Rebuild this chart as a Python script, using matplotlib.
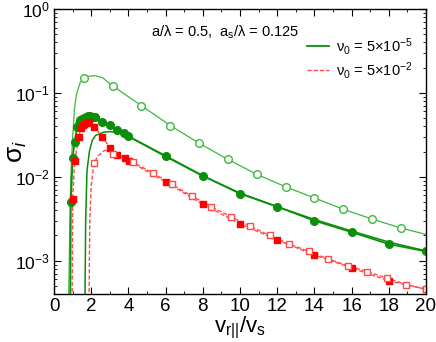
import matplotlib
matplotlib.use("Agg")
import matplotlib.pyplot as plt
from matplotlib.ticker import LogLocator, MultipleLocator, NullFormatter

plt.rcParams['font.family'] = ['Liberation Sans', 'DejaVu Sans']
plt.rcParams['mathtext.fontset'] = 'custom'
plt.rcParams['mathtext.rm'] = 'Liberation Sans'
plt.rcParams['mathtext.it'] = 'Liberation Sans:italic'
plt.rcParams['mathtext.bf'] = 'Liberation Sans:bold'

# curves
g1_x = [0.78, 0.85, 0.9, 1.0, 1.1, 1.2, 1.4, 1.6, 1.9, 2.2, 2.6, 3.15, 4.7, 6.25, 7.8,
        9.35, 10.9, 12.45, 14.0, 15.55, 17.1, 18.65, 20.0]
g1_y = [3e-4, 0.003, 0.01, 0.03, 0.065, 0.095, 0.132, 0.150, 0.158, 0.16, 0.152, 0.121,
        0.0703, 0.0408, 0.0251, 0.0161, 0.0107, 0.0076, 0.0056, 0.0041, 0.00314, 0.00245, 0.00206]

g2_x = [0.87, 0.9, 1.0, 1.1, 1.25, 1.4, 1.58, 1.85, 2.1, 2.6, 3.0, 3.4, 3.8, 4.0, 6.0,
        8.0, 10.0, 12.0, 14.0, 16.0, 18.0, 20.0]
g2_y = [3e-4, 0.005, 0.0166, 0.0263, 0.0394, 0.047, 0.0505, 0.052, 0.0505, 0.0456, 0.040,
        0.036, 0.033, 0.0304, 0.0177, 0.0103, 0.0063, 0.0044, 0.0030, 0.00219, 0.00158, 0.00129]

g3_x = [1.66, 1.7, 1.77, 1.9, 2.05, 2.22, 2.67, 3.0, 3.5, 4.0, 6.0, 8.0, 10.0, 12.0,
        14.0, 16.0, 18.0, 20.0]
g3_y = [3e-4, 0.003, 0.0118, 0.02, 0.027, 0.031, 0.034, 0.0345, 0.0332, 0.0302, 0.0174,
        0.0102, 0.0064, 0.0044, 0.0031, 0.00226, 0.00167, 0.00131]

r1_x = [0.97, 1.0, 1.11, 1.33, 1.43, 1.63, 1.88, 2.17, 2.6, 3.0, 3.4, 3.8, 4.0, 6.0, 8.0,
        10.0, 12.0, 14.0, 16.0, 18.0, 20.0]
r1_y = [3e-4, 0.0055, 0.0155, 0.0296, 0.038, 0.0427, 0.0447, 0.039, 0.030, 0.022, 0.0183,
        0.0166, 0.0155, 0.0087, 0.0047, 0.00275, 0.00177, 0.00117, 0.00082, 0.000576, 0.000457]

r2_x = [1.88, 1.92, 2.0, 2.15, 2.4, 2.7, 3.0, 3.19, 3.6, 4.25, 5.3, 6.35, 7.4, 8.45, 9.5,
        10.55, 11.6, 12.65, 13.7, 14.75, 15.8, 16.85, 17.9, 18.95, 20.0]
r2_y = [3e-4, 0.003, 0.008, 0.0147, 0.018, 0.0205, 0.021, 0.0195, 0.0175, 0.0148, 0.0112,
        0.0081, 0.0059, 0.0044, 0.00335, 0.00257, 0.0020, 0.00158, 0.00129, 0.00105,
        0.00087, 0.00074, 0.00062, 0.00052, 0.000457]

# markers
oc_x = [1.6, 3.15, 4.7, 6.25, 7.8, 9.35, 10.9, 12.45, 14.0, 15.55, 17.1, 18.65]
oc_y = [0.150, 0.121, 0.0703, 0.0408, 0.0251, 0.0161, 0.0107, 0.0076, 0.0056, 0.0041,
        0.00314, 0.00245]

fc_x = [0.9, 1.0, 1.1, 1.25, 1.33, 1.4, 1.5, 1.6, 1.72, 1.85, 1.95, 2.1, 2.2, 2.6, 3.0,
        3.4, 3.75, 3.95, 6.0, 8.0, 10.0, 12.0, 14.0, 16.0, 18.0, 20.0]
fc_y = [0.0050, 0.0166, 0.0263, 0.0394, 0.043, 0.047, 0.049, 0.0505, 0.052, 0.0524, 0.0526,
        0.0512, 0.051, 0.0455, 0.041, 0.0362, 0.0330, 0.031, 0.0177, 0.0103, 0.0063, 0.0044,
        0.0030, 0.00219, 0.00158, 0.00129]

fs_x = [1.0, 1.11, 1.33, 1.43, 1.55, 1.63, 1.75, 1.88, 2.17, 2.6, 3.0, 3.4, 3.82, 4.03,
        6.0, 8.0, 10.0, 12.0, 14.0, 16.0, 18.0, 20.0]
fs_y = [0.0055, 0.0155, 0.0296, 0.038, 0.041, 0.0427, 0.044, 0.0447, 0.039, 0.030, 0.022,
        0.0183, 0.0166, 0.0155, 0.0087, 0.0047, 0.00275, 0.00177, 0.00117, 0.00082,
        0.000576, 0.000457]

os_x = [2.15, 3.19, 4.25, 5.3, 6.35, 7.4, 8.45, 9.5, 10.55, 11.6, 12.65, 13.7, 14.75,
        15.8, 16.85, 17.9, 18.95, 20.0]
os_y = [0.0147, 0.0187, 0.0148, 0.0112, 0.0081, 0.0059, 0.0044, 0.00335, 0.00257, 0.0020,
        0.00158, 0.00129, 0.00105, 0.00087, 0.00074, 0.00062, 0.00052, 0.000457]

green = '#0a8f0a'
lgreen = '#3db83d'
red = '#ff0000'
lred = '#ff4a4a'

fig = plt.figure(figsize=(4.36, 3.42), dpi=100)
ax = fig.add_axes([0.124, 0.140, 0.853, 0.834])

ax.plot(g1_x, g1_y, color=lgreen, lw=0.9)
ax.plot(g2_x, g2_y, color=green, lw=1.3, label=r'ν$_0$ = 5×10$^{-5}$')
ax.plot(g3_x, g3_y, color=green, lw=1.1)
ax.plot(r1_x, r1_y, color=lred, lw=1.0, ls=(0, (3, 1.5)), label=r'ν$_0$ = 5×10$^{-2}$')
ax.plot(r2_x, r2_y, color=lred, lw=1.0, ls=(0, (3, 1.5)))

ax.plot(oc_x, oc_y, 'o', ms=5.5, mfc='white', mec=lgreen, mew=1.0)
ax.plot(fc_x, fc_y, 'o', ms=5.5, color=green, mec=green)
ax.plot(fs_x, fs_y, 's', ms=4.8, color=red, mec=red)
ax.plot(os_x, os_y, 's', ms=4.8, mfc='white', mec=lred, mew=1.0)

ax.set_yscale('log')
ax.set_xlim(0, 20)
ax.set_ylim(4e-4, 1)
ax.xaxis.set_major_locator(MultipleLocator(2))
ax.xaxis.set_minor_locator(MultipleLocator(1))
ax.yaxis.set_major_locator(LogLocator(base=10, numticks=10))
ax.yaxis.set_minor_locator(LogLocator(base=10, subs=range(2, 10), numticks=10))
ax.yaxis.set_minor_formatter(NullFormatter())
ax.tick_params(which='both', direction='in', top=True, right=True)
ax.tick_params(axis='x', labelsize=13.5, pad=3)
ax.tick_params(axis='y', labelsize=12.5, pad=3)
ax.tick_params(which='major', length=5, width=0.8)
ax.tick_params(which='minor', length=2.5, width=0.6)
for s in ax.spines.values():
    s.set_linewidth(1.0)

ax.set_xlabel(r'v$_{\mathrm{r||}}$/v$_{\mathrm{s}}$', fontsize=16, labelpad=0)
ax.set_ylabel(r'σ$_i$', fontsize=19, va='center')
ax.yaxis.set_label_coords(-0.10, 0.5)

ax.text(0.46, 0.919, r'a/λ = 0.5,  a$_{\mathrm{s}}$/λ = 0.125', transform=ax.transAxes,
        ha='center', va='center', fontsize=10.5)

ax.legend(loc='upper right', bbox_to_anchor=(0.965, 0.905), frameon=False, fontsize=10.5,
          handlelength=1.5, handletextpad=0.5, labelspacing=0.2, borderpad=0,
          borderaxespad=0)

fig.savefig('out.png', dpi=100)
